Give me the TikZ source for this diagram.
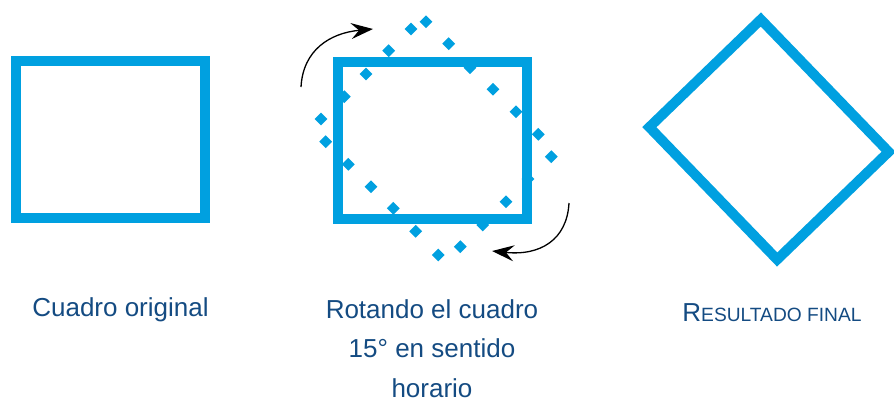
\documentclass[tikz,border=0pt]{standalone}
\usepackage{fontspec}
\setmainfont{Liberation Sans}
\usetikzlibrary{arrows.meta,shapes.geometric}
\definecolor{cuadroazul}{RGB}{0,160,224}
\definecolor{textoazul}{RGB}{20,75,130}

\begin{document}
\begin{tikzpicture}[
  x=1pt,y=-1pt,
  cuadro/.style={draw=cuadroazul,line width=10pt,minimum width=189pt,minimum height=157pt,inner sep=0pt},
  punto/.style={diamond,fill=cuadroazul,minimum size=13pt,inner sep=0pt},
  giro/.style={-{Stealth[length=22pt,width=16pt,inset=8pt]},line width=1.3pt,black},
  rotulo/.style={text=textoazul,anchor=base,inner sep=0pt,font=\fontsize{26}{39.5}\selectfont}
]
  \useasboundingbox (0,0) rectangle (894,402);

  % cuadro original
  \node[cuadro] (original) at (110.5,139.5) {};

  % cuadro girando, con el rastro de puntos
  \foreach \x/\y [count=\i] in {411/29,426/21.7,448.7/43.7,388.7/50.7,366/74,470/67.7,
      344.3/96.7,493/89.3,516/111.7,321/119,325.7/141.7,538.3/134.3,551.3/156.7,
      348.3/164.3,528/179,371/186.7,506/201.7,393.3/208.3,482.7/225,415.7/231.3,
      460.3/246.7,438.3/255}
    \node[punto] (punto\i) at (\x,\y) {};
  \node[cuadro] (girando) at (432.5,140) {};
  \coordinate (arribaini) at (301,87);
  \coordinate (arribafin) at (373,29);
  \coordinate (abajoini) at (569,203);
  \coordinate (abajofin) at (492,251);
  \draw[giro] (arribaini) .. controls (303,50) and (330,33) .. (arribafin);
  \draw[giro] (abajoini) .. controls (567,240) and (540,256) .. (abajofin);

  % resultado
  \node[cuadro,minimum width=184pt,minimum height=155pt,rotate=-46] (resultado) at (769,139.5) {};

  % rotulos
  \node[rotulo] (rotorig) at (120.5,316) {Cuadro original};
  \node[rotulo,align=center] (rotgiro) at (432,397) {Rotando el cuadro\\15° en sentido\\horario};
  \node[rotulo] (rotres) at (772,321) {R{\fontsize{19.2}{24}\selectfont ESULTADO FINAL}};
\end{tikzpicture}
\end{document}
